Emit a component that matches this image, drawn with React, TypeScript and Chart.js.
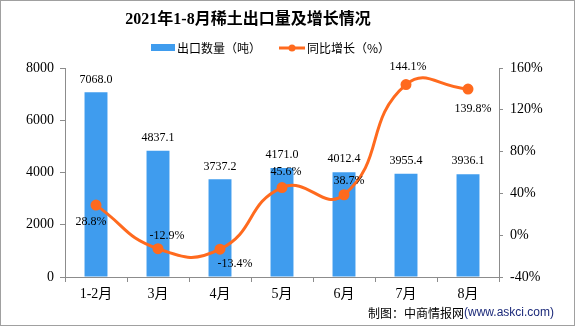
import React, { useEffect, useRef } from 'react';
import { Chart, registerables } from 'chart.js';

Chart.register(...registerables);

const categories = ['1-2月', '3月', '4月', '5月', '6月', '7月', '8月'];
const exportVolume = [7068.0, 4837.1, 3737.2, 4171.0, 4012.4, 3955.4, 3936.1];
const yoyGrowth = [28.8, -12.9, -13.4, 45.6, 38.7, 144.1, 139.8];
const leftTickValues = [0, 2000, 4000, 6000, 8000];
const rightTickValues = [-40, 0, 40, 80, 120, 160];

const titleText = '2021年1-8月稀土出口量及增长情况';
const barLegend = '出口数量（吨）';
const lineLegend = '同比增长（%）';
const footerA = '制图：中商情报网';
const footerB = '(www.askci.com)';

const BAR_COLOR = '#3f9cee';
const LINE_COLOR = '#ff6a1e';
const AXIS_COLOR = '#8c8c8c';

export default function App() {
  const ref = useRef<HTMLCanvasElement>(null);

  useEffect(() => {
    document.body.style.margin = '0';
    const canvas = ref.current!;
    const serif = "'Liberation Serif', 'Noto Sans CJK SC', serif";
    const sans = "'Noto Sans CJK SC', sans-serif";

    // label placement relative to line points (layout only)
    const growthOffsets: [number, number][] = [
      [-5, 17], [9, -13], [15, 15], [4, -16], [5, -14], [2, -18], [5, 20],
    ];

    const labels = {
      id: 'valueLabels',
      afterDatasetsDraw(chart: any) {
        const ctx = chart.ctx;
        ctx.save();
        ctx.font = `12px ${serif}`;
        ctx.fillStyle = '#000';
        ctx.textAlign = 'center';
        ctx.textBaseline = 'middle';
        const barMeta = chart.getDatasetMeta(0);
        barMeta.data.forEach((el: any, i: number) => {
          ctx.fillText(exportVolume[i].toFixed(1), el.x, el.y - 13);
        });
        const lineMeta = chart.getDatasetMeta(1);
        lineMeta.data.forEach((el: any, i: number) => {
          const [dx, dy] = growthOffsets[i];
          ctx.fillText(yoyGrowth[i].toFixed(1) + '%', el.x + dx, el.y + dy);
        });
        ctx.restore();
      },
    };

    const decor = {
      id: 'decor',
      afterDraw(chart: any) {
        const ctx = chart.ctx;
        ctx.save();
        ctx.strokeStyle = '#a0a0a0';
        ctx.lineWidth = 1;
        ctx.strokeRect(0.5, 0.5, 574, 325);

        // title
        ctx.fillStyle = '#000';
        ctx.font = `bold 16px ${serif}`;
        ctx.textAlign = 'center';
        ctx.textBaseline = 'middle';
        ctx.fillText(titleText, 248, 20);

        // legend
        ctx.font = `12px ${sans}`;
        ctx.textAlign = 'left';
        ctx.fillStyle = BAR_COLOR;
        ctx.fillRect(151, 44, 24, 7);
        ctx.fillStyle = '#000';
        ctx.fillText(barLegend, 177, 48);
        ctx.strokeStyle = LINE_COLOR;
        ctx.lineWidth = 3;
        ctx.beginPath();
        ctx.moveTo(279, 48);
        ctx.lineTo(305, 48);
        ctx.stroke();
        ctx.fillStyle = LINE_COLOR;
        ctx.beginPath();
        ctx.arc(292, 48, 3.5, 0, Math.PI * 2);
        ctx.fill();
        ctx.fillStyle = '#000';
        ctx.fillText(lineLegend, 307, 48);

        // footer
        ctx.font = `12px ${sans}`;
        ctx.fillStyle = '#000';
        ctx.fillText(footerA, 368, 313);
        const w = ctx.measureText(footerA).width;
        ctx.font = `12px 'Liberation Sans', sans-serif`;
        ctx.fillStyle = '#1c2a7a';
        ctx.fillText(footerB, 368 + w, 313);
        ctx.restore();
      },
    };

    const chart = new Chart(canvas, {
      type: 'bar',
      data: {
        labels: categories,
        datasets: [
          {
            type: 'bar',
            label: barLegend,
            data: exportVolume,
            backgroundColor: BAR_COLOR,
            barPercentage: 0.37,
            categoryPercentage: 1,
            yAxisID: 'y',
            order: 2,
          },
          {
            type: 'line',
            label: lineLegend,
            data: yoyGrowth,
            borderColor: LINE_COLOR,
            backgroundColor: LINE_COLOR,
            borderWidth: 3,
            pointRadius: 4,
            pointBackgroundColor: LINE_COLOR,
            pointBorderColor: LINE_COLOR,
            tension: 0.5,
            yAxisID: 'y1',
            order: 1,
          } as any,
        ],
      },
      options: {
        responsive: false,
        animation: false,
        layout: { padding: { top: 68, left: 0, right: 0, bottom: 0 } },
        plugins: {
          legend: { display: false },
          title: { display: false },
          tooltip: { enabled: false },
        },
        scales: {
          x: {
            offset: true,
            grid: {
              offset: true,
              drawOnChartArea: false,
              drawTicks: true,
              tickLength: 5,
              color: AXIS_COLOR,
            },
            border: { color: AXIS_COLOR, width: 1 },
            ticks: {
              color: '#000',
              font: { family: serif, size: 14 },
              padding: 4,
              maxRotation: 0,
            },
            afterFit(scale: any) {
              scale.height = 49;
            },
          },
          y: {
            position: 'left',
            min: 0,
            max: 8000,
            afterBuildTicks(scale: any) {
              scale.ticks = leftTickValues.map((v) => ({ value: v }));
            },
            grid: {
              drawOnChartArea: false,
              drawTicks: true,
              tickLength: 5,
              color: AXIS_COLOR,
            },
            border: { color: AXIS_COLOR, width: 1 },
            ticks: {
              color: '#000',
              font: { family: serif, size: 14 },
              padding: 6,
              callback: (v: any) => String(v),
            },
            afterFit(scale: any) {
              scale.width = 65;
            },
          },
          y1: {
            position: 'right',
            min: -40,
            max: 160,
            afterBuildTicks(scale: any) {
              scale.ticks = rightTickValues.map((v) => ({ value: v }));
            },
            grid: {
              drawOnChartArea: false,
              drawTicks: true,
              tickLength: 4,
              color: AXIS_COLOR,
            },
            border: { color: AXIS_COLOR, width: 1 },
            ticks: {
              color: '#000',
              font: { family: serif, size: 14 },
              padding: 7,
              callback: (v: any) => v + '%',
            },
            afterFit(scale: any) {
              scale.width = 76;
            },
          },
        },
      },
      plugins: [labels, decor],
    });

    return () => chart.destroy();
  }, []);

  return (
    <div style={{ width: 575, height: 326, background: '#fff' }}>
      <canvas ref={ref} width={575} height={326} style={{ display: 'block' }} />
    </div>
  );
}
